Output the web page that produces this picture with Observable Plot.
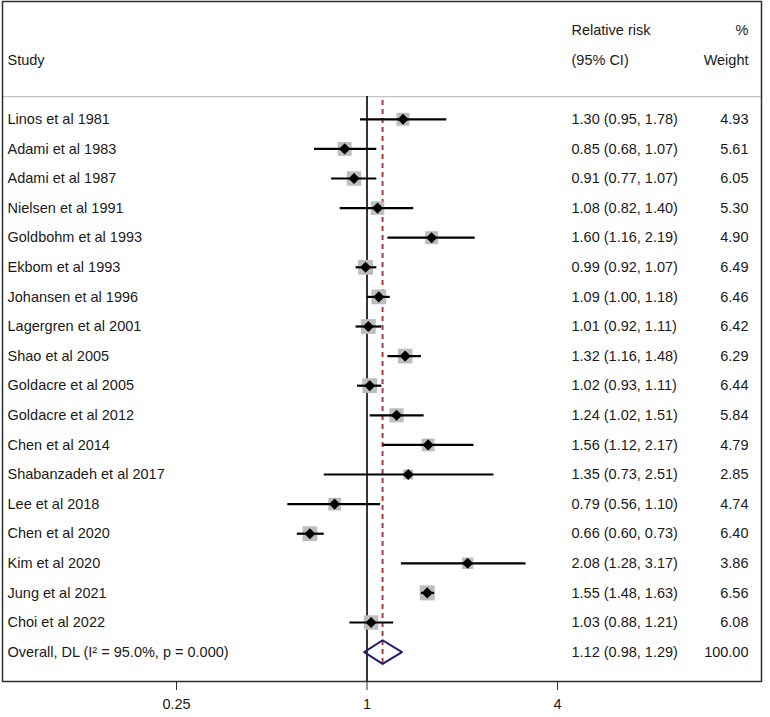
<!DOCTYPE html>
<html>
<head>
<meta charset="utf-8">
<script src="https://cdn.jsdelivr.net/npm/d3@7"></script>
<script src="https://cdn.jsdelivr.net/npm/@observablehq/plot@0.6"></script>
<style>
  html, body { margin: 0; padding: 0; background: #fff; }
</style>
</head>
<body>
<div id="chart"></div>
<script>
const studies = ["Linos et al 1981", "Adami et al 1983", "Adami et al 1987", "Nielsen et al 1991",
  "Goldbohm et al 1993", "Ekbom et al 1993", "Johansen et al 1996", "Lagergren et al 2001",
  "Shao et al 2005", "Goldacre et al 2005", "Goldacre et al 2012", "Chen et al 2014",
  "Shabanzadeh et al 2017", "Lee et al 2018", "Chen et al 2020", "Kim et al 2020",
  "Jung et al 2021", "Choi et al 2022"];
const rr = [1.30, 0.85, 0.91, 1.08, 1.60, 0.99, 1.09, 1.01, 1.32, 1.02, 1.24, 1.56, 1.35, 0.79, 0.66, 2.08, 1.55, 1.03];
const lo = [0.95, 0.68, 0.77, 0.82, 1.16, 0.92, 1.00, 0.92, 1.16, 0.93, 1.02, 1.12, 0.73, 0.56, 0.60, 1.28, 1.48, 0.88];
const hi = [1.78, 1.07, 1.07, 1.40, 2.19, 1.07, 1.18, 1.11, 1.48, 1.11, 1.51, 2.17, 2.51, 1.10, 0.73, 3.17, 1.63, 1.21];
const weights = [4.93, 5.61, 6.05, 5.30, 4.90, 6.49, 6.46, 6.42, 6.29, 6.44, 5.84, 4.79, 2.85, 4.74, 6.40, 3.86, 6.56, 6.08];

const overallLabel = "Overall, DL (I² = 95.0%, p = 0.000)";
const overallRR = 1.12, overallLo = 0.98, overallHi = 1.29, overallWeight = 100.00;

const headerTop = ["", "Relative risk", "%"];
const headerBottom = ["Study", "(95% CI)", "Weight"];
const xTicks = [0.25, 1, 4];

// rows: 0,1 header lines, 2 blank, studies from 3, overall after last study
const firstRow = 3;
const rows = studies.map((s, i) => ({
  study: s, rr: rr[i], lo: lo[i], hi: hi[i], w: weights[i], row: firstRow + i,
  ci: `${rr[i].toFixed(2)} (${lo[i].toFixed(2)}, ${hi[i].toFixed(2)})`,
  wt: weights[i].toFixed(2)
}));
const overallRow = firstRow + studies.length;
const overall = {study: overallLabel, row: overallRow,
  ci: `${overallRR.toFixed(2)} (${overallLo.toFixed(2)}, ${overallHi.toFixed(2)})`,
  wt: overallWeight.toFixed(2)};
const textRows = [...rows, overall];
const diamondH = 0.4;
const diamond = [
  {x: overallLo, y: overallRow}, {x: overallRR, y: overallRow - diamondH},
  {x: overallHi, y: overallRow}, {x: overallRR, y: overallRow + diamondH},
  {x: overallLo, y: overallRow}
];

const font = "'Liberation Sans', Arial, sans-serif";
const txt = "#1a1a1a";
const fs = 14.5;

const chart = Plot.plot({
  width: 770,
  height: 717,
  marginTop: 1,
  marginBottom: 36,
  marginLeft: 2,
  marginRight: 9,
  style: {fontFamily: font, fontSize: fs + "px", color: txt, background: "#fff"},
  x: {type: "log", domain: [0.25, 4], range: [176, 557], axis: null},
  y: {type: "linear", domain: [0, overallRow], range: [30, 30 + overallRow * 29.6], axis: null},
  r: {type: "sqrt", domain: [0, 6.56], range: [0, 8.45]},
  marks: [
    // header separator
    Plot.ruleY([2], {dy: 7, stroke: "#c4c4c4", strokeWidth: 1.2}),
    // overall dashed line
    Plot.ruleX([overallRR], {insetTop: 99, insetBottom: 16, stroke: "#b03a3a", strokeWidth: 2, strokeDasharray: "5,4"}),
    // null line
    Plot.ruleX([1], {insetTop: 95, stroke: "#000", strokeWidth: 1.6}),
    // weight squares
    Plot.dot(rows, {x: "rr", y: "row", r: "w", symbol: "square", fill: "#bdbdbd", stroke: null}),
    // CIs
    Plot.link(rows, {x1: "lo", x2: "hi", y1: "row", y2: "row", stroke: "#000", strokeWidth: 2.2}),
    // point estimates
    Plot.dot(rows, {x: "rr", y: "row", r: 5, symbol: "diamond2", fill: "#000", stroke: null}),
    // overall diamond
    Plot.line(diamond, {x: "x", y: "y", stroke: "#1c1f6e", strokeWidth: 2, curve: "linear"}),
    // text columns
    Plot.text(textRows, {y: "row", text: "study", frameAnchor: "left", textAnchor: "start", dx: 5, fill: txt, fontSize: fs}),
    Plot.text(textRows, {y: "row", text: "ci", frameAnchor: "left", textAnchor: "start", dx: 569, fill: txt, fontSize: fs}),
    Plot.text(textRows, {y: "row", text: "wt", frameAnchor: "right", textAnchor: "end", dx: -13, fill: txt, fontSize: fs}),
    // headers
    Plot.text([headerBottom[0]], {y: [1], text: d => d, frameAnchor: "left", textAnchor: "start", dx: 5, fill: txt, fontSize: fs}),
    Plot.text([headerTop[1], headerBottom[1]], {y: [0, 1], text: d => d, frameAnchor: "left", textAnchor: "start", dx: 569, fill: txt, fontSize: fs}),
    Plot.text([headerTop[2], headerBottom[2]], {y: [0, 1], text: d => d, frameAnchor: "right", textAnchor: "end", dx: -13, fill: txt, fontSize: fs}),
    // frame
    Plot.frame({stroke: "#2b2f38", strokeWidth: 1.5}),
    // x axis
    Plot.axisX({ticks: xTicks, tickFormat: d => String(d), tickSize: 9, tickPadding: 8,
      anchor: "bottom", label: null, fontSize: fs, stroke: "#2b2f38", fill: txt})
  ]
});
document.getElementById("chart").appendChild(chart);
</script>
</body>
</html>
